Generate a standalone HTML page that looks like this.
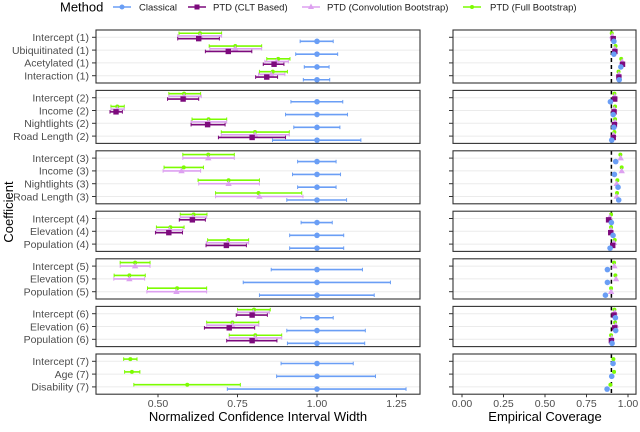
<!DOCTYPE html>
<html><head><meta charset="utf-8"><style>
body{margin:0;background:#fff;}
svg text{font-family:"Liberation Sans",sans-serif;}
</style></head><body>
<svg id="chart" width="640" height="427" viewBox="0 0 640 427" xmlns="http://www.w3.org/2000/svg">
<g>
<text x="60" y="11.5" font-size="13" fill="#000">Method</text>
<g><line x1="113" x2="131" y1="7" y2="7" stroke="#6A9EF5" stroke-width="1.5"/><circle cx="122" cy="7" r="2.5" fill="#6A9EF5"/><text x="139" y="10.5" font-size="9.5" fill="#1a1a1a">Classical</text></g>
<g><line x1="188" x2="206" y1="7" y2="7" stroke="#7D0A7D" stroke-width="1.5"/><rect x="194.5" y="4.5" width="5" height="5" fill="#7D0A7D"/><text x="213" y="10.5" font-size="9.5" fill="#1a1a1a">PTD (CLT Based)</text></g>
<g><line x1="302" x2="320" y1="7" y2="7" stroke="#DDA0F0" stroke-width="1.5"/><polygon points="311,3.5 314,9 308,9" fill="#DDA0F0"/><text x="327" y="10.5" font-size="9.5" fill="#1a1a1a">PTD (Convolution Bootstrap)</text></g>
<g><line x1="463" x2="481" y1="7" y2="7" stroke="#7CFC00" stroke-width="1.5"/><circle cx="472" cy="7" r="2" fill="#7CFC00"/><text x="490" y="10.5" font-size="9.5" fill="#1a1a1a">PTD (Full Bootstrap)</text></g>
</g>
<g id="plots"></g>
<text x="258" y="421" font-size="13" text-anchor="middle" fill="#000">Normalized Confidence Interval Width</text>
<text x="545" y="421" font-size="13" text-anchor="middle" fill="#000">Empirical Coverage</text>
<text x="0" y="0" font-size="13" text-anchor="middle" fill="#000" transform="translate(13,212) rotate(-90)">Coefficient</text>
</svg>
<script>
const labels=[["Intercept (1)","Ubiquitinated (1)","Acetylated (1)","Interaction (1)"],["Intercept (2)","Income (2)","Nightlights (2)","Road Length (2)"],["Intercept (3)","Income (3)","Nightlights (3)","Road Length (3)"],["Intercept (4)","Elevation (4)","Population (4)"],["Intercept (5)","Elevation (5)","Population (5)"],["Intercept (6)","Elevation (6)","Population (6)"],["Intercept (7)","Age (7)","Disability (7)"]];
const fullLo=[[0.566,0.661,0.842,0.819],[0.534,0.352,0.607,0.699],[0.578,0.519,0.626,0.681],[0.570,0.495,0.656],[0.381,0.362,0.467],[0.750,0.653,0.724],[0.392,0.395,0.424]];
const fullEst=[[0.632,0.743,0.878,0.861],[0.582,0.372,0.659,0.805],[0.658,0.581,0.722,0.816],[0.612,0.539,0.721],[0.428,0.410,0.560],[0.802,0.734,0.806],[0.413,0.418,0.592]];
const fullHi=[[0.700,0.826,0.915,0.907],[0.634,0.394,0.716,0.913],[0.740,0.643,0.819,0.952],[0.654,0.582,0.785],[0.475,0.460,0.653],[0.853,0.817,0.889],[0.434,0.443,0.759]];
const convLo=[[0.562,0.663,0.836,0.816],[0.534,0.352,0.604,0.699],[0.578,0.516,0.628,0.681],[0.570,0.495,0.652],[0.381,0.361,0.465],[0.750,0.653,0.724],null];
const convEst=[[0.632,0.743,0.873,0.856],[0.582,0.372,0.659,0.805],[0.658,0.574,0.722,0.819],[0.610,0.536,0.719],[0.428,0.410,0.558],[0.800,0.734,0.806],null];
const convHi=[[0.700,0.826,0.910,0.899],[0.636,0.394,0.716,0.913],[0.740,0.634,0.819,0.956],[0.653,0.578,0.785],[0.475,0.458,0.653],[0.850,0.817,0.889],null];
const cltLo=[[0.562,0.649,0.831,0.807],[0.530,0.349,0.604,0.690],null,[0.567,0.492,0.651],null,[0.746,0.646,0.716],null];
const cltEst=[[0.628,0.721,0.865,0.842],[0.579,0.368,0.656,0.796],null,[0.608,0.534,0.715],null,[0.796,0.724,0.796],null];
const cltHi=[[0.693,0.795,0.896,0.876],[0.628,0.388,0.711,0.901],null,[0.649,0.577,0.778],null,[0.844,0.804,0.874],null];
const clsLo=[[0.947,0.933,0.960,0.957],[0.918,0.901,0.927,0.860],[0.939,0.923,0.939,0.905],[0.950,0.914,0.914],[0.856,0.768,0.819],[0.949,0.905,0.907],[0.887,0.873,0.718]];
const clsHi=[[1.051,1.065,1.038,1.040],[1.081,1.096,1.072,1.138],[1.060,1.074,1.060,1.093],[1.048,1.084,1.084],[1.143,1.231,1.180],[1.051,1.152,1.150],[1.114,1.184,1.280]];
const covFull=[[0.902,0.925,0.959,0.943],[0.918,0.922,0.922,0.918],[0.954,0.962,0.936,0.934],[0.898,0.898,0.920],[0.916,0.924,0.898],[0.918,0.922,0.898],[0.912,0.916,0.894]];
const covConv=[[0.905,0.921,0.965,0.945],[0.920,0.918,0.922,0.914],[0.956,0.962,0.932,0.932],[0.890,0.898,0.916],[0.918,0.928,0.898],[0.920,0.926,0.902],null];
const covClt=[[0.911,0.921,0.967,0.945],[0.920,0.916,0.918,0.911],null,[0.883,0.896,0.908],null,[0.916,0.920,0.900],null];
const covCls=[[0.915,0.915,0.957,0.947],[0.894,0.911,0.915,0.902],[0.926,0.918,0.940,0.944],[0.900,0.910,0.892],[0.876,0.876,0.864],[0.924,0.926,0.904],[0.910,0.902,0.874]];
const xTicks=[0.5,0.75,1.0,1.25];
const xTickLabels=["0.50","0.75","1.00","1.25"];
const cTicks=[0,0.25,0.5,0.75,1];
const cTickLabels=["0.00","0.25","0.50","0.75","1.00"];
const nominal=0.9;

const NS="http://www.w3.org/2000/svg";
const plotsG=document.getElementById('plots');
const xL=v=>317+(v-1)*318;
const xR=v=>462+v*166;
const L0=96,L1=420,R0=453,R1=636;
const COLS={cls:"#6A9EF5",clt:"#7D0A7D",conv:"#DDA0F0",full:"#7CFC00"};
function mk(tag,attrs,parent){const e=document.createElementNS(NS,tag);for(const k in attrs)e.setAttribute(k,attrs[k]);(parent||plotsG).appendChild(e);return e;}
function marker(type,x,y,col,p){
 if(type==="cls")return mk('circle',{cx:x,cy:y,r:2.8,fill:col},p);
 if(type==="clt")return mk('rect',{x:x-2.7,y:y-2.7,width:5.4,height:5.4,fill:col},p);
 if(type==="conv")return mk('polygon',{points:`${x},${y-3.3} ${x+3.2},${y+2.3} ${x-3.2},${y+2.3}`,fill:col},p);
 return mk('circle',{cx:x,cy:y,r:2,fill:col},p);
}
const spacing={4:2.7,3:3.5,2:4.4};
let yTop=30;
labels.forEach((rows,pi)=>{
 const n=rows.length;const h=(n-1)*12.8+14.6;
 const pg=mk('g',{});
 
 
 const methods=[];
 if(fullLo[pi])methods.push("full");
 if(convLo[pi])methods.push("conv");
 if(cltLo[pi])methods.push("clt");
 methods.push("cls");
 const sp=spacing[methods.length];
 rows.forEach((lab,ri)=>{
  const yc=yTop+7.3+ri*12.8;
  mk('line',{x1:L0,x2:L1,y1:yc,y2:yc,stroke:"#ebebeb","stroke-width":1},pg);
  mk('line',{x1:R0,x2:R1,y1:yc,y2:yc,stroke:"#ebebeb","stroke-width":1},pg);
  const t=mk('text',{x:89,y:yc+3.8,"font-size":10.5,"text-anchor":"end",fill:"#4d4d4d"},pg);t.textContent=lab;
  
  
  mk('line',{x1:92,x2:L0,y1:yc,y2:yc,stroke:"#333","stroke-width":1},pg);
  mk('line',{x1:449,x2:R0,y1:yc,y2:yc,stroke:"#333","stroke-width":1},pg);
 });
 const dl=mk('line',{x1:xR(nominal),x2:xR(nominal),y1:yTop,y2:yTop+h,stroke:"#000","stroke-width":1.5,"stroke-dasharray":"4,3"},pg);
 
 
 rows.forEach((lab,ri)=>{
  const yc=yTop+7.3+ri*12.8;
  methods.forEach((m,mi)=>{
   const y=yc+(mi-(methods.length-1)/2)*sp;
   let lo,hi,est,cov;
   if(m==="full"){lo=fullLo[pi][ri];hi=fullHi[pi][ri];est=fullEst[pi][ri];cov=covFull[pi][ri];}
   else if(m==="conv"){lo=convLo[pi][ri];hi=convHi[pi][ri];est=convEst[pi][ri];cov=covConv[pi][ri];}
   else if(m==="clt"){lo=cltLo[pi][ri];hi=cltHi[pi][ri];est=cltEst[pi][ri];cov=covClt[pi][ri];}
   else {lo=clsLo[pi][ri];hi=clsHi[pi][ri];est=1.0;cov=covCls[pi][ri];}
   const col=COLS[m];
   const eg=mk('g',{},pg);
   
   
   mk('line',{x1:xL(lo),x2:xL(hi),y1:y,y2:y,stroke:col,"stroke-width":1.6},eg);
   mk('line',{x1:xL(lo),x2:xL(lo),y1:y-1.8,y2:y+1.8,stroke:col,"stroke-width":1},eg);
   mk('line',{x1:xL(hi),x2:xL(hi),y1:y-1.8,y2:y+1.8,stroke:col,"stroke-width":1},eg);
   marker(m,xL(est),y,col,eg);
   const cp=marker(m,xR(cov),y,col,pg);
   
   
  });
 });
 [[L0,L1],[R0,R1]].forEach(([a,b])=>{mk('rect',{x:a,y:yTop,width:b-a,height:h,fill:"none",stroke:"#333","stroke-width":1.1},pg);});
 yTop+=h+7.4;
});
const bottom=yTop-7.4;
xTicks.forEach((v,i)=>{
 mk('line',{x1:xL(v),x2:xL(v),y1:bottom,y2:bottom+3,stroke:"#333"});
 const t=mk('text',{x:xL(v),y:bottom+13,"font-size":10.5,"text-anchor":"middle",fill:"#4d4d4d"});t.textContent=xTickLabels[i];
 
 
});
cTicks.forEach((v,i)=>{
 mk('line',{x1:xR(v),x2:xR(v),y1:bottom,y2:bottom+3,stroke:"#333"});
 const t=mk('text',{x:xR(v),y:bottom+13,"font-size":10.5,"text-anchor":"middle",fill:"#4d4d4d"});t.textContent=cTickLabels[i];
 
 
});
</script>
</body></html>
